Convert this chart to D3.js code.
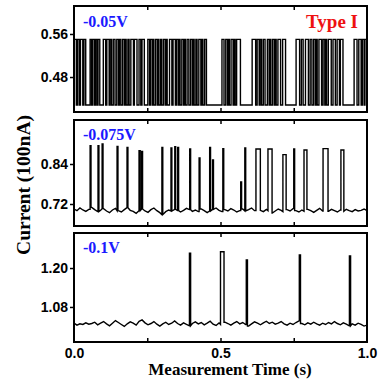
<!DOCTYPE html>
<html><head><meta charset="utf-8">
<script src="https://cdn.jsdelivr.net/npm/d3@7"></script>
<style>body{margin:0;background:#fff}</style></head><body>
<svg id="c" width="378" height="382"></svg>
<script>
// ---------- data ----------
const xTickLabels = [0, 0.5, 1.0];
const xMinorTicks = [0.25, 0.5, 0.75];
const panelLabels = ["-0.05V", "-0.075V", "-0.1V"];
const yTicks1 = [0.48, 0.56];
const yTicks2 = [0.72, 0.84];
const yTicks3 = [1.08, 1.20];

// panel 1: two-level telegraph signal, state toggles at these times (starts high)
const p1High = 0.550, p1Low = 0.428;
const p1Switch = [0.008,0.012,0.018,0.022,0.030,0.034,0.040,0.055,0.060,0.064,0.070,0.073,0.078,0.082,0.088,0.100,0.108,0.112,0.120,0.123,0.128,0.134,
0.140,0.146,0.152,0.155,0.160,0.166,0.172,0.175,0.178,0.184,0.188,0.194,0.203,0.206,0.215,0.222,0.228,0.232,0.240,0.252,0.258,0.262,0.268,0.270,0.272,0.278,
0.284,0.287,0.290,0.296,0.300,0.306,0.312,0.315,0.318,0.326,0.334,0.338,0.346,0.350,0.356,0.359,0.362,0.368,0.374,0.377,0.380,0.386,0.392,0.398,0.404,0.407,0.410,0.416,
0.420,0.426,0.433,0.436,0.440,0.446,0.452,0.505,0.512,0.518,0.524,0.527,0.530,0.536,0.543,0.546,0.550,0.555,0.568,0.608,0.620,0.625,0.632,0.635,0.640,0.646,
0.652,0.660,0.666,0.669,0.672,0.678,0.684,0.687,0.690,0.696,0.705,0.712,0.722,0.758,0.770,0.776,0.782,0.790,0.800,0.806,0.812,0.818,0.824,0.827,
0.830,0.836,0.845,0.850,0.856,0.859,0.862,0.868,0.878,0.884,0.892,0.898,0.906,0.909,0.918,0.956,0.966,0.972,0.980,0.984,0.990,0.993];

// panel 2: baseline samples (evenly spaced over 0..1 s) and spikes [start, end, peak]
const p2Base = [0.705,0.700,0.708,0.702,0.698,0.704,0.710,0.703,0.697,0.701,
0.706,0.699,0.694,0.702,0.707,0.700,0.696,0.703,0.709,0.701,
0.698,0.692,0.700,0.705,0.699,0.695,0.703,0.708,0.700,0.694,
0.688,0.697,0.702,0.699,0.704,0.700,0.696,0.701,0.707,0.703,
0.698,0.702,0.697,0.705,0.700,0.694,0.699,0.704,0.708,0.701,
0.697,0.703,0.699,0.706,0.702,0.696,0.700,0.705,0.699,0.703,
0.708,0.700,0.695,0.701,0.697,0.704,0.700,0.693,0.699,0.705,
0.701,0.697,0.703,0.699,0.706,0.700,0.696,0.702,0.698,0.704,
0.700,0.695,0.701,0.707,0.699,0.703,0.698,0.704,0.700,0.696,
0.702,0.698,0.704,0.700,0.697,0.703,0.699,0.701,0.705,0.700];
const p2Spikes = [[0.055,0.058,0.895],[0.082,0.085,0.895],[0.096,0.099,0.900],[0.147,0.150,0.893],
[0.181,0.184,0.890],[0.222,0.226,0.880],[0.231,0.234,0.878],[0.300,0.303,0.890],[0.331,0.334,0.888],
[0.344,0.347,0.892],[0.354,0.357,0.890],[0.395,0.398,0.885],[0.427,0.430,0.858],[0.463,0.466,0.890],
[0.473,0.476,0.852],[0.508,0.511,0.886],[0.569,0.572,0.786],[0.583,0.586,0.888],[0.621,0.636,0.885],
[0.662,0.676,0.885],[0.713,0.724,0.868],[0.750,0.753,0.885],[0.785,0.795,0.882],[0.850,0.867,0.886],
[0.911,0.921,0.882]];

// panel 3
const p3Base = [1.030,1.024,1.028,1.026,1.031,1.027,1.029,1.033,1.025,1.030,
1.035,1.028,1.022,1.030,1.038,1.032,1.026,1.020,1.028,1.034,
1.030,1.024,1.036,1.040,1.031,1.025,1.029,1.035,1.027,1.021,
1.028,1.033,1.026,1.030,1.037,1.029,1.024,1.031,1.026,1.022,
1.029,1.034,1.028,1.032,1.025,1.030,1.036,1.027,1.023,1.031,
1.026,1.033,1.029,1.024,1.030,1.035,1.028,1.032,1.026,1.021,
1.028,1.034,1.030,1.025,1.031,1.036,1.029,1.033,1.027,1.030,
1.035,1.028,1.024,1.030,1.026,1.032,1.037,1.029,1.025,1.031,
1.027,1.033,1.028,1.024,1.030,1.026,1.032,1.028,1.035,1.029,
1.025,1.031,1.027,1.022,1.028,1.024,1.030,1.026,1.021,1.024];
const p3Spikes = [[0.394,0.398,1.246],[0.500,0.512,1.250],[0.588,0.592,1.225],[0.769,0.773,1.240],[0.940,0.944,1.237]];

// ---------- build series ----------
function telegraph(sw, hi, lo) {
  const pts = [[0, hi]]; let s = 1;
  for (const t of sw) { pts.push([t, s ? hi : lo]); s = 1 - s; pts.push([t, s ? hi : lo]); }
  pts.push([1, s ? hi : lo]);
  return pts;
}
function spiky(base, spikes) {
  const n = base.length;
  const at = t => base[Math.round(t * (n - 1))];
  const pts = [];
  base.forEach((v, i) => {
    const t = i / (n - 1);
    if (!spikes.some(s => t > s[0] && t < s[1])) pts.push([t, v]);
  });
  spikes.forEach(s => {
    pts.push([s[0] - 1e-6, at(s[0])], [s[0], s[2]], [s[1], s[2]], [s[1] + 1e-6, at(s[1])]);
  });
  pts.sort((a, b) => a[0] - b[0]);
  return pts;
}

const panels = [
  {y0: 6, y1: 112, dom: [0.415, 0.612], ticks: yTicks1, data: telegraph(p1Switch, p1High, p1Low), lab: panelLabels[0], ly: 27},
  {y0: 120, y1: 226, dom: [0.654, 0.972], ticks: yTicks2, data: spiky(p2Base, p2Spikes), lab: panelLabels[1], ly: 140},
  {y0: 233, y1: 342, dom: [0.972, 1.308], ticks: yTicks3, data: spiky(p3Base, p3Spikes), lab: panelLabels[2], ly: 253}
];

const svg = d3.select("#c");
const L = 74, R = 367;
const x = d3.scaleLinear().domain([0, 1]).range([L, R]);

panels.forEach((p, i) => {
  const y = d3.scaleLinear().domain(p.dom).range([p.y1, p.y0]);
  const g = svg.append("g");
  g.append("clipPath").attr("id", "cp" + i).append("rect")
    .attr("x", L).attr("y", p.y0).attr("width", R - L).attr("height", p.y1 - p.y0);
  g.append("path").datum(p.data)
    .attr("clip-path", `url(#cp${i})`)
    .attr("fill", "none").attr("stroke", "#000").attr("stroke-width", 1.4)
    .attr("d", d3.line().x(d => x(d[0])).y(d => y(d[1])));

  // y axis
  const ya = g.append("g").attr("transform", `translate(${L},0)`)
    .call(d3.axisLeft(y).tickValues(p.ticks).tickFormat(d3.format(".2f")).tickSize(4).tickPadding(2));
  ya.select(".domain").remove();
  ya.selectAll("line").attr("stroke-width", 1.5);
  ya.selectAll("text").attr("font-family", "Liberation Sans, Arial, sans-serif")
    .attr("font-weight", "bold").attr("font-size", 14).attr("fill", "#000");

  // minor inward x ticks top & bottom
  const xb = g.append("g").attr("transform", `translate(0,${p.y1})`)
    .call(d3.axisBottom(x).tickValues(xMinorTicks).tickSize(-4).tickFormat(""));
  xb.select(".domain").remove();
  xb.selectAll("line").attr("stroke-width", 1.5);
  const xt = g.append("g").attr("transform", `translate(0,${p.y0})`)
    .call(d3.axisTop(x).tickValues(xMinorTicks).tickSize(-4).tickFormat(""));
  xt.select(".domain").remove();
  xt.selectAll("line").attr("stroke-width", 1.5);

  // frame
  g.append("rect").attr("x", L).attr("y", p.y0).attr("width", R - L).attr("height", p.y1 - p.y0)
    .attr("fill", "none").attr("stroke", "#000").attr("stroke-width", 2);

  g.append("text").attr("x", 83).attr("y", p.ly).text(p.lab)
    .attr("font-family", "Liberation Serif, Times New Roman, serif").attr("font-weight", "bold")
    .attr("font-size", 16).attr("fill", "#1a1aff");

  if (i === 2) {
    const xa = g.append("g").attr("transform", `translate(0,${p.y1})`)
      .call(d3.axisBottom(x).tickValues(xTickLabels).tickSize(0).tickPadding(6).tickFormat(d3.format(".1f")));
    xa.select(".domain").remove();
    xa.selectAll("text").attr("font-family", "Liberation Sans, Arial, sans-serif")
      .attr("font-weight", "bold").attr("font-size", 14).attr("fill", "#000");
  }
});

svg.append("text").attr("x", 358).attr("y", 28).attr("text-anchor", "end").text("Type I")
  .attr("font-family", "Liberation Serif, Times New Roman, serif").attr("font-weight", "bold")
  .attr("font-size", 19).attr("fill", "#ee1111");

svg.append("text").attr("transform", "translate(30,185) rotate(-90)").attr("text-anchor", "middle")
  .text("Current (100nA)")
  .attr("font-family", "Liberation Serif, Times New Roman, serif").attr("font-weight", "bold")
  .attr("font-size", 19.5).attr("fill", "#000");

svg.append("text").attr("x", 230).attr("y", 375).attr("text-anchor", "middle")
  .text("Measurement Time (s)")
  .attr("font-family", "Liberation Serif, Times New Roman, serif").attr("font-weight", "bold")
  .attr("font-size", 17).attr("fill", "#000");
</script></body></html>
